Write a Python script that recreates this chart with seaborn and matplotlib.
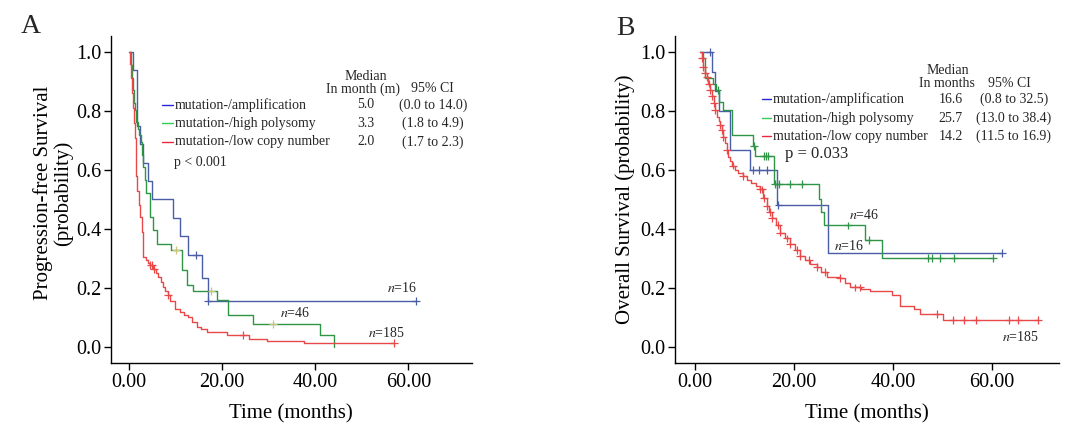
# plot.py
# Kaplan-Meier style curves: PFS (A) and OS (B) by mutation / copy-number group.

import numpy as np
import pandas as pd
import matplotlib
matplotlib.use('Agg')
import matplotlib.pyplot as plt
from matplotlib.ticker import FormatStrFormatter
import seaborn as sns

# ── Data ──────────────────────────────────────────────────────
GROUPS = ["mutation-/amplification", "mutation-/high polysomy", "mutation-/low copy number"]

# Panel A: progression-free survival (knot = time of drop, survival after drop)
PFS_AMP_T = [0, 0.9, 1.65, 2.4, 3.1, 4.1, 4.9, 9.4, 10.9, 12.7, 15.6, 17.0, 61.7]
PFS_AMP_S = [1.0, 0.938, 0.750, 0.688, 0.625, 0.563, 0.500, 0.438, 0.375, 0.313, 0.234, 0.156, 0.156]
PFS_AMP_CENS = [14.4, 17.0, 61.7]

PFS_HIGH_T = [0, 0.4, 0.7, 0.9, 1.1, 1.3, 1.6, 1.9, 2.2, 2.5, 2.8, 3.1, 3.4, 3.7, 4.4,
              5.2, 6.1, 9.0, 11.3, 12.5, 13.8, 18.9, 21.3, 26.7, 41.0, 44.0]
PFS_HIGH_S = [1.0, 0.957, 0.913, 0.870, 0.826, 0.804, 0.761, 0.739, 0.717, 0.696, 0.652,
              0.609, 0.565, 0.522, 0.441, 0.396, 0.350, 0.328, 0.260, 0.209, 0.189, 0.161,
              0.107, 0.079, 0.040, 0.0]
PFS_HIGH_CENS = [10.1, 17.7, 31.0]

PFS_LOW_T = [0, 0.2, 0.4, 0.6, 0.8, 1.0, 1.2, 1.4, 1.6, 1.8, 2.1, 2.4, 2.7, 2.9, 3.1, 3.6,
             4.1, 4.6, 5.1, 5.7, 6.3, 6.8, 7.3, 7.8, 8.3, 8.9, 9.9, 10.9, 11.8, 12.7, 13.5,
             14.5, 15.5, 16.7, 21.0, 25.8, 29.7, 37.6, 57.0]
PFS_LOW_S = [1.0, 0.96, 0.91, 0.86, 0.81, 0.76, 0.71, 0.64, 0.58, 0.53, 0.48, 0.44, 0.39,
             0.34, 0.305, 0.295, 0.285, 0.277, 0.265, 0.25, 0.237, 0.22, 0.205, 0.19, 0.175,
             0.155, 0.13, 0.119, 0.11, 0.102, 0.085, 0.068, 0.06, 0.051, 0.040, 0.026,
             0.020, 0.0136, 0.0136]
PFS_LOW_CENS = [4.6, 4.9, 5.3, 8.4, 24.5, 57.0]

# Panel B: overall survival
OS_AMP_T = [1.1, 3.43, 4.1, 4.98, 7.1, 11.2, 16.6, 27.0, 62.0]
OS_AMP_S = [1.0, 0.933, 0.867, 0.800, 0.667, 0.600, 0.480, 0.320, 0.320]
OS_AMP_CENS = [3.1, 11.8, 12.9, 14.5, 16.9, 62.0]

OS_HIGH_T = [1.1, 1.6, 2.08, 3.77, 4.3, 4.98, 5.78, 7.47, 11.7, 12.2, 16.0, 25.0, 25.6,
             26.1, 34.4, 37.8, 60.3]
OS_HIGH_S = [1.0, 0.978, 0.913, 0.891, 0.870, 0.831, 0.803, 0.719, 0.680, 0.646, 0.553,
             0.502, 0.459, 0.412, 0.362, 0.301, 0.301]
OS_HIGH_CENS = [4.6, 12.0, 13.9, 14.4, 14.8, 16.2, 16.6, 17.1, 19.3, 21.7, 31.0, 35.1,
                47.2, 47.9, 49.6, 52.3, 60.3]

OS_LOW_T = [1.1, 1.4, 1.7, 2.0, 2.4, 2.7, 3.1, 3.4, 3.8, 4.1, 4.4, 4.8, 5.1, 5.4, 5.7, 6.1,
            6.5, 6.8, 7.1, 7.6, 8.1, 8.8, 9.8, 10.6, 11.4, 12.3, 13.2, 13.8, 14.5, 15.0,
            15.6, 16.4, 17.2, 18.2, 19.3, 20.3, 21.3, 22.3, 23.3, 24.6, 25.6, 26.7, 29.4,
            30.4, 31.4, 33.5, 35.4, 39.8, 41.5, 44.2, 45.5, 50.2, 69.4]
OS_LOW_S = [1.0, 0.978, 0.949, 0.930, 0.916, 0.893, 0.871, 0.849, 0.826, 0.804, 0.781,
            0.767, 0.753, 0.735, 0.713, 0.690, 0.667, 0.645, 0.630, 0.615, 0.600, 0.590,
            0.579, 0.567, 0.556, 0.545, 0.534, 0.505, 0.477, 0.458, 0.438, 0.413, 0.388,
            0.368, 0.348, 0.328, 0.309, 0.295, 0.281, 0.270, 0.255, 0.239, 0.234, 0.218,
            0.202, 0.196, 0.191, 0.176, 0.140, 0.129, 0.112, 0.092, 0.092]
OS_LOW_CENS = [1.4, 1.7, 2.1, 2.4, 2.8, 3.1, 3.4, 3.8, 4.1, 5.1, 5.4, 5.8, 6.5, 7.8, 9.8,
               13.2, 13.5, 13.9, 14.5, 15.2, 15.6, 16.9, 17.2, 18.6, 19.3, 20.6, 21.3, 23.0,
               24.6, 26.3, 29.4, 32.4, 33.4, 48.9, 52.2, 54.3, 56.9, 63.4, 65.4, 69.4]

# Legend tables
PFS_MEDIAN = ["5.0", "3.3", "2.0"]
PFS_CI = ["(0.0 to 14.0)", "(1.8 to 4.9)", "(1.7 to 2.3)"]
OS_MEDIAN = ["16.6", "25.7", "14.2"]
OS_CI = ["(0.8 to 32.5)", "(13.0 to 38.4)", "(11.5 to 16.9)"]

# n labels: (text, time, survival)
PFS_N = [("16", 58.7, 0.199), ("46", 35.6, 0.114), ("185", 55.2, 0.047)]
OS_N = [("46", 34.2, 0.446), ("16", 31.2, 0.342), ("185", 65.8, 0.035)]

# ── Style ─────────────────────────────────────────────────────
LINE_COLORS = dict(zip(GROUPS, ["#4a5ea8", "#2e9446", "#e84848"]))
KEY_COLORS = ["#2626d8", "#33cc55", "#e8283c"]
CENS_A = dict(zip(GROUPS, ["#4a5ea8", "#c9c47a", "#e84848"]))
CENS_B = dict(zip(GROUPS, ["#4a5ea8", "#2e9446", "#e84848"]))

sns.set_theme(style="ticks")
plt.rcParams['font.family'] = ['Liberation Serif', 'DejaVu Serif']
plt.rcParams['mathtext.fontset'] = 'stix'


def step_frame(times, survs):
    frames = [pd.DataFrame({"time": t, "surv": s, "group": g})
              for g, t, s in zip(GROUPS, times, survs)]
    return pd.concat(frames, ignore_index=True)


def censor_frame(times, survs, cens):
    frames = []
    for g, t, s, c in zip(GROUPS, times, survs, cens):
        idx = np.searchsorted(t, c, side='right') - 1
        frames.append(pd.DataFrame({"time": c, "surv": np.asarray(s)[idx], "group": g}))
    return pd.concat(frames, ignore_index=True)


def draw_panel(ax, times, survs, cens, cens_colors):
    steps = step_frame(times, survs)
    sns.lineplot(data=steps, x="time", y="surv", hue="group", palette=LINE_COLORS,
                 estimator=None, sort=False, drawstyle="steps-post", linewidth=1.0,
                 legend=False, ax=ax)
    marks = censor_frame(times, survs, cens)
    sns.scatterplot(data=marks, x="time", y="surv", hue="group", palette=cens_colors,
                    marker="+", s=32, linewidth=0.9, legend=False, ax=ax, zorder=3)

    ax.set_xlim(-3.93, 73.6)
    ax.set_ylim(-0.054, 1.054)
    ax.set_xticks([0, 20, 40, 60])
    ax.set_yticks([0, 0.2, 0.4, 0.6, 0.8, 1.0])
    ax.xaxis.set_major_formatter(FormatStrFormatter('%.2f'))
    ax.yaxis.set_major_formatter(FormatStrFormatter('%.1f'))
    ax.tick_params(direction='out', length=5, width=1, labelsize=14.5, pad=2,
                   color='black', labelcolor='black')
    sns.despine(ax=ax)
    for sp in ['left', 'bottom']:
        ax.spines[sp].set_color('black')
        ax.spines[sp].set_linewidth(1.0)
    ax.set_xlabel("Time (months)", fontsize=15, color='black')
    ax.xaxis.set_label_coords(0.5, -0.125)


def draw_key(ax, x_line, x_text, rows_y, x_med, x_ci, medians, cis, head_x, head_y, head):
    for i, y in enumerate(rows_y):
        ax.plot(x_line, [y, y], color=KEY_COLORS[i], lw=1.0, transform=ax.transAxes,
                clip_on=False)
        ax.text(x_text, y, GROUPS[i], transform=ax.transAxes, fontsize=10,
                va='center', ha='left')
        ax.text(x_med, y, medians[i], transform=ax.transAxes, fontsize=10,
                va='center', ha='center')
        ax.text(x_ci, y, cis[i], transform=ax.transAxes, fontsize=10,
                va='center', ha='center')
    ax.text(head_x[0], head_y[0], "Median", transform=ax.transAxes, fontsize=10,
            va='center', ha='center')
    ax.text(head_x[1], head_y[1], head, transform=ax.transAxes, fontsize=10,
            va='center', ha='center')
    ax.text(head_x[2], head_y[1], "95% CI", transform=ax.transAxes, fontsize=10,
            va='center', ha='center')


fig = plt.figure(figsize=(10.74, 4.32), dpi=100)
axA = fig.add_axes([0.1031, 0.1597, 0.3361, 0.757])
axB = fig.add_axes([0.6288, 0.1597, 0.3573, 0.757])

# Panel A
draw_panel(axA, [PFS_AMP_T, PFS_HIGH_T, PFS_LOW_T], [PFS_AMP_S, PFS_HIGH_S, PFS_LOW_S],
           [PFS_AMP_CENS, PFS_HIGH_CENS, PFS_LOW_CENS], CENS_A)
axA.set_ylabel("Progression-free Survival\n(probability)", fontsize=15, color='black',
               linespacing=1.0)
axA.yaxis.set_label_coords(-0.104, 0.52)
draw_key(axA, [0.141, 0.172], 0.178, [0.789, 0.733, 0.676], 0.707, 0.892,
         PFS_MEDIAN, PFS_CI, [0.707, 0.700, 0.892], [0.875, 0.838], "In month (m)")
axA.text(0.176, 0.614, "p < 0.001", transform=axA.transAxes, fontsize=10, va='center')
for n, t, s in PFS_N:
    axA.text(t, s, f"$n$={n}", fontsize=10, ha='center', va='center')

# Panel B
draw_panel(axB, [OS_AMP_T, OS_HIGH_T, OS_LOW_T], [OS_AMP_S, OS_HIGH_S, OS_LOW_S],
           [OS_AMP_CENS, OS_HIGH_CENS, OS_LOW_CENS], CENS_B)
axB.set_ylabel("Overall Survival (probability)", fontsize=15, color='black')
axB.yaxis.set_label_coords(-0.105, 0.5)
draw_key(axB, [0.225, 0.250], 0.2546, [0.806, 0.748, 0.693], 0.718, 0.882,
         OS_MEDIAN, OS_CI, [0.711, 0.707, 0.870], [0.895, 0.855], "In months")
axB.text(0.286, 0.639, "p = 0.033", transform=axB.transAxes, fontsize=12, va='center')
for n, t, s in OS_N:
    axB.text(t, s, f"$n$={n}", fontsize=10, ha='center', va='center')

fig.text(31 / 1074, 1 - 33 / 432, "A", fontsize=20, ha='center', va='baseline')
fig.text(625 / 1074, 1 - 35 / 432, "B", fontsize=20, ha='center', va='baseline')

fig.savefig("out.png", dpi=100)
plt.close(fig)
